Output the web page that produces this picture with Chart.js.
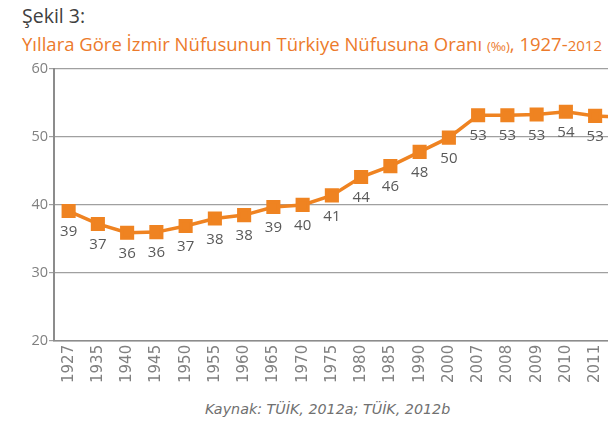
<!DOCTYPE html>
<html>
<head>
<meta charset="utf-8">
<script src="https://cdn.jsdelivr.net/npm/chart.js@4/dist/chart.umd.min.js"></script>
<style>
body { margin: 0; width: 608px; height: 426px; overflow: hidden; background: #fff; position: relative; font-family: "Open Sans", sans-serif; }
#t1 { position: absolute; left: 22px; top: 2px; font-size: 19.5px; color: #404040; }
#t2 { position: absolute; left: 22px; top: 31px; font-size: 18.5px; color: #EC7A2B; white-space: nowrap; }
#t2 small { font-size: 13px; }
#t2 .y { font-size: 15px; }
#wrap { position: absolute; left: 0; top: 58px; width: 650px; height: 329px; }
#src { position: absolute; left: 205px; top: 401px; font-family: "DejaVu Sans", sans-serif; font-style: italic; font-size: 14.3px; color: #707070; white-space: nowrap; }
</style>
</head>
<body>
<div id="t1">Şekil 3:</div>
<div id="t2">Yıllara Göre İzmir Nüfusunun Türkiye Nüfusuna Oranı <small>(‰)</small>, 1927-<span class="y">2012</span></div>
<div id="wrap"><canvas id="chart"></canvas></div>
<div id="src">Kaynak: TÜİK, 2012a; TÜİK, 2012b</div>
<script>
const years = ['1927', '1935', '1940', '1945', '1950', '1955', '1960', '1965', '1970', '1975',
    '1980', '1985', '1990', '2000', '2007', '2008', '2009', '2010', '2011', '2012'];
const ratio = [39.1, 37.2, 35.9, 36.0, 36.9, 38.0, 38.5, 39.7, 40.0, 41.4,
    44.1, 45.7, 47.8, 49.9, 53.2, 53.2, 53.3, 53.7, 53.1, 52.9];
const shownLabels = ['39', '37', '36', '36', '37', '38', '38', '39', '40', '41',
    '44', '46', '48', '50', '53', '53', '53', '54', '53', '53'];
const yTicks = [20, 30, 40, 50, 60];

const orange = '#EF8321';

// draws the value under each point
const pointLabels = {
    id: 'pointLabels',
    afterDatasetsDraw(chart) {
        const ctx = chart.ctx;
        const meta = chart.getDatasetMeta(0);
        ctx.save();
        ctx.font = '15px "Open Sans"';
        ctx.fillStyle = '#595959';
        ctx.textAlign = 'center';
        ctx.textBaseline = 'middle';
        meta.data.forEach((pt, i) => ctx.fillText(shownLabels[i], pt.x, pt.y + 21));
        ctx.restore();
    }
};

const ctx = document.getElementById('chart').getContext('2d');
new Chart(ctx, {
    type: 'line',
    data: {
        labels: years,
        datasets: [{
            data: ratio,
            borderColor: orange,
            backgroundColor: orange,
            borderWidth: 3.5,
            pointStyle: 'rect',
            pointRadius: 7.5,
            pointHoverRadius: 7.5,
            tension: 0
        }]
    },
    options: {
        responsive: true,
        maintainAspectRatio: false,
        animation: false,
        layout: { padding: { top: 0, right: 0, bottom: 0, left: 0 } },
        plugins: {
            legend: { display: false },
            tooltip: { enabled: false }
        },
        scales: {
            x: {
                offset: true,
                grid: { display: false, drawTicks: false },
                border: { color: '#8c8c8c', width: 1.5 },
                ticks: {
                    color: '#808080',
                    font: { family: 'DejaVu Sans', size: 15 },
                    minRotation: 90,
                    maxRotation: 90,
                    autoSkip: false,
                    padding: 4
                }
            },
            y: {
                min: 20,
                max: 60,
                afterBuildTicks: axis => { axis.ticks = yTicks.map(v => ({ value: v })); },
                afterFit: axis => { axis.width = 54; },
                grid: { color: '#a0a0a0', lineWidth: 1.2, tickLength: 5 },
                border: { color: '#8c8c8c', width: 2 },
                ticks: {
                    color: '#808080',
                    font: { family: 'Open Sans', size: 14.5 },
                    padding: 1
                }
            }
        }
    },
    plugins: [pointLabels]
});
</script>
</body>
</html>
